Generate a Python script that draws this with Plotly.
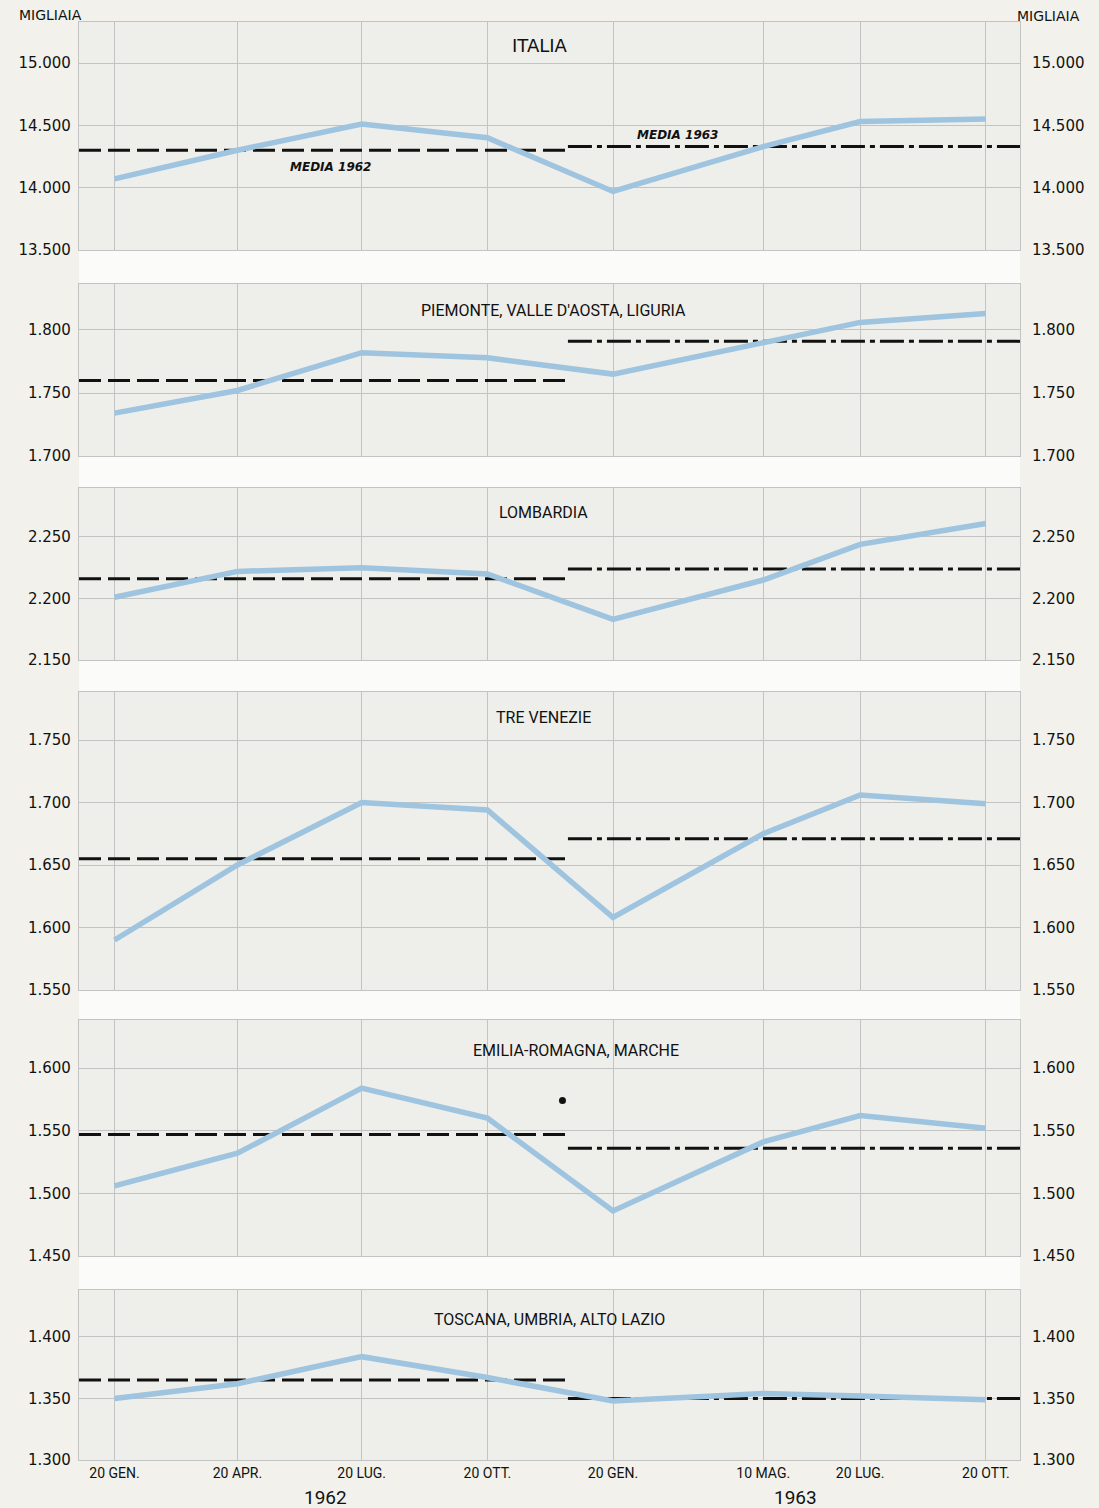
import plotly.graph_objects as go

# ---------------- DATA ----------------
dates = ["1962-01-20", "1962-04-20", "1962-07-20", "1962-10-20",
         "1963-01-20", "1963-05-10", "1963-07-20", "1963-10-20"]
tick_labels = ["20 GEN.", "20 APR.", "20 LUG.", "20 OTT.",
               "20 GEN.", "10 MAG.", "20 LUG.", "20 OTT."]

regions = ["ITALIA", "PIEMONTE, VALLE D'AOSTA, LIGURIA", "LOMBARDIA",
           "TRE VENEZIE", "EMILIA-ROMAGNA, MARCHE", "TOSCANA, UMBRIA, ALTO LAZIO"]

italia = [14070, 14300, 14510, 14400, 13970, 14330, 14530, 14550]
piemonte = [1734, 1752, 1782, 1778, 1765, 1790, 1806, 1813]
lombardia = [2201, 2222, 2225, 2220, 2183, 2215, 2244, 2261]
tre_venezie = [1590, 1650, 1700, 1694, 1608, 1675, 1706, 1699]
emilia = [1506, 1532, 1584, 1560, 1486, 1541, 1562, 1552]
toscana = [1350, 1362, 1384, 1367, 1348, 1354, 1352, 1349]
series = [italia, piemonte, lombardia, tre_venezie, emilia, toscana]

media_1962 = [14300, 1760, 2216, 1655, 1547, 1365]
media_1963 = [14330, 1791, 2224, 1671, 1536, 1350]
media_1962_span = ["1961-12-25", "1962-12-18"]
media_1963_span = ["1962-12-18", "1963-11-14"]

y_ticks = [[13500, 14000, 14500, 15000], [1700, 1750, 1800], [2150, 2200, 2250],
           [1550, 1600, 1650, 1700, 1750], [1450, 1500, 1550, 1600], [1300, 1350, 1400]]

# stray printed dot in the Emilia-Romagna panel
dot_x = ["1962-12-14"]
dot_y = [1574]

# ---------------- LAYOUT HELPERS ----------------
W, H = 1099, 1508
ML, MR, MT, MB = 79, 79, 22, 48
PW, PH = W - ML - MR, H - MT - MB


def fx(xpx):
    return (xpx - ML) / PW


def fy(ypx):
    return (H - MB - ypx) / PH


panel_px = [(22, 250), (284, 456), (488, 660), (692, 990), (1020, 1256), (1290, 1460)]
y_ranges = [[13500, 15329], [1700, 1836.5], [2150, 2289.8],
            [1550, 1788.4], [1450, 1638.3], [1300, 1438.2]]
title_px = [(540, 45, 18), (553, 310, 16), (543, 512, 16),
            (543, 717, 16), (576, 1050, 16), (549, 1319, 16)]

x_range = ["1961-12-25", "1963-11-14"]
GRID = "#c3c3c3"
BLUE = "#9ec4df"
TICKFONT = dict(family="DejaVu Sans", size=15, color="#111111")

fig = go.Figure()
layout = dict(
    width=W, height=H,
    margin=dict(l=ML, r=MR, t=MT, b=MB),
    paper_bgcolor="#f2f1ec",
    plot_bgcolor="#eeeeea",
    showlegend=False,
    annotations=[],
    shapes=[],
)


def fmt(v):
    return f"{v:,}".replace(",", ".")


n = len(regions)
for i in range(n):
    k = i + 1
    kr = i + 1 + n
    xa = "x" if k == 1 else f"x{k}"
    ya = "y" if k == 1 else f"y{k}"
    yr = f"y{kr}"
    top, bot = panel_px[i]
    dom = [fy(bot), fy(top)]

    layout[f"xaxis{'' if k == 1 else k}"] = dict(
        domain=[0, 1], anchor=ya, type="date", range=x_range,
        tickvals=dates, ticktext=tick_labels,
        showticklabels=(i == n - 1),
        tickfont=dict(family="Roboto", size=14, color="#111111"),
        ticks="", showgrid=True, gridcolor=GRID, gridwidth=1.2,
        showline=True, linecolor=GRID, linewidth=1.2, mirror=True,
        zeroline=False, fixedrange=True,
    )
    layout[f"yaxis{'' if k == 1 else k}"] = dict(
        domain=dom, anchor=xa, range=y_ranges[i],
        tickvals=y_ticks[i], ticktext=[fmt(v) for v in y_ticks[i]],
        tickfont=TICKFONT, ticks="outside", ticklen=4, tickcolor="rgba(0,0,0,0)",
        showgrid=True, gridcolor=GRID, gridwidth=1.2,
        showline=True, linecolor=GRID, linewidth=1.2, mirror=True,
        zeroline=False, fixedrange=True,
    )
    layout[f"yaxis{kr}"] = dict(
        overlaying=ya, anchor=xa, side="right", range=y_ranges[i],
        tickvals=y_ticks[i], ticktext=[fmt(v) for v in y_ticks[i]],
        tickfont=TICKFONT, ticks="outside", ticklen=8, tickcolor="rgba(0,0,0,0)",
        showgrid=False, showline=False, zeroline=False, fixedrange=True,
    )

    # media lines (under the blue line)
    fig.add_trace(go.Scatter(
        x=media_1962_span, y=[media_1962[i]] * 2, mode="lines",
        line=dict(color="#111111", width=3, dash="22px,7px"),
        xaxis=xa, yaxis=ya, hoverinfo="skip"))
    fig.add_trace(go.Scatter(
        x=media_1963_span, y=[media_1963[i]] * 2, mode="lines",
        line=dict(color="#111111", width=3, dash="24px,5px,5px,5px"),
        xaxis=xa, yaxis=ya, hoverinfo="skip"))

    # main series on the right (overlay) axis so it sits on top
    fig.add_trace(go.Scatter(
        x=dates, y=series[i], mode="lines",
        line=dict(color=BLUE, width=5.5),
        xaxis=xa, yaxis=yr, name=regions[i]))

    # panel title
    tx, ty, ts = title_px[i]
    layout["annotations"].append(dict(
        text=regions[i], x=fx(tx), y=fy(ty), xref="paper", yref="paper",
        showarrow=False, xanchor="center", yanchor="middle",
        font=dict(family="Roboto" if i > 0 else "DejaVu Sans", size=ts, color="#111111")))

    # white gap band below each panel (except last)
    if i < n - 1:
        nxt_top = panel_px[i + 1][0]
        layout["shapes"].append(dict(
            type="rect", xref="paper", yref="paper", x0=0, x1=1,
            y0=fy(nxt_top), y1=fy(bot), fillcolor="#fbfbfa",
            line=dict(width=0), layer="below"))

# stray dot
fig.add_trace(go.Scatter(x=dot_x, y=dot_y, mode="markers",
                         marker=dict(color="#111111", size=7),
                         xaxis="x5", yaxis="y5", hoverinfo="skip"))

# MEDIA labels in Italia panel
layout["annotations"].append(dict(
    text="<b><i>MEDIA 1962</i></b>", x="1962-06-27", y=14168, xref="x", yref="y",
    showarrow=False, font=dict(family="DejaVu Sans", size=12, color="#111111")))
layout["annotations"].append(dict(
    text="<b><i>MEDIA 1963</i></b>", x="1963-03-08", y=14425, xref="x", yref="y",
    showarrow=False, font=dict(family="DejaVu Sans", size=12, color="#111111")))

# MIGLIAIA labels
for xp, yp in [(50, 15), (1048, 16)]:
    layout["annotations"].append(dict(
        text="MIGLIAIA", x=fx(xp), y=fy(yp), xref="paper", yref="paper",
        showarrow=False, xanchor="center", yanchor="middle",
        font=dict(family="DejaVu Sans", size=14, color="#111111")))

# year labels
for txt, xp in [("1962", 325), ("1963", 795)]:
    layout["annotations"].append(dict(
        text=txt, x=fx(xp), y=fy(1497), xref="paper", yref="paper",
        showarrow=False, xanchor="center", yanchor="middle",
        font=dict(family="Roboto", size=19, color="#111111")))

fig.update_layout(**layout)
fig.write_html(
    "out.html",
    config={"displayModeBar": False},
    post_script="document.body.style.margin='0';document.body.style.overflow='hidden';",
)
